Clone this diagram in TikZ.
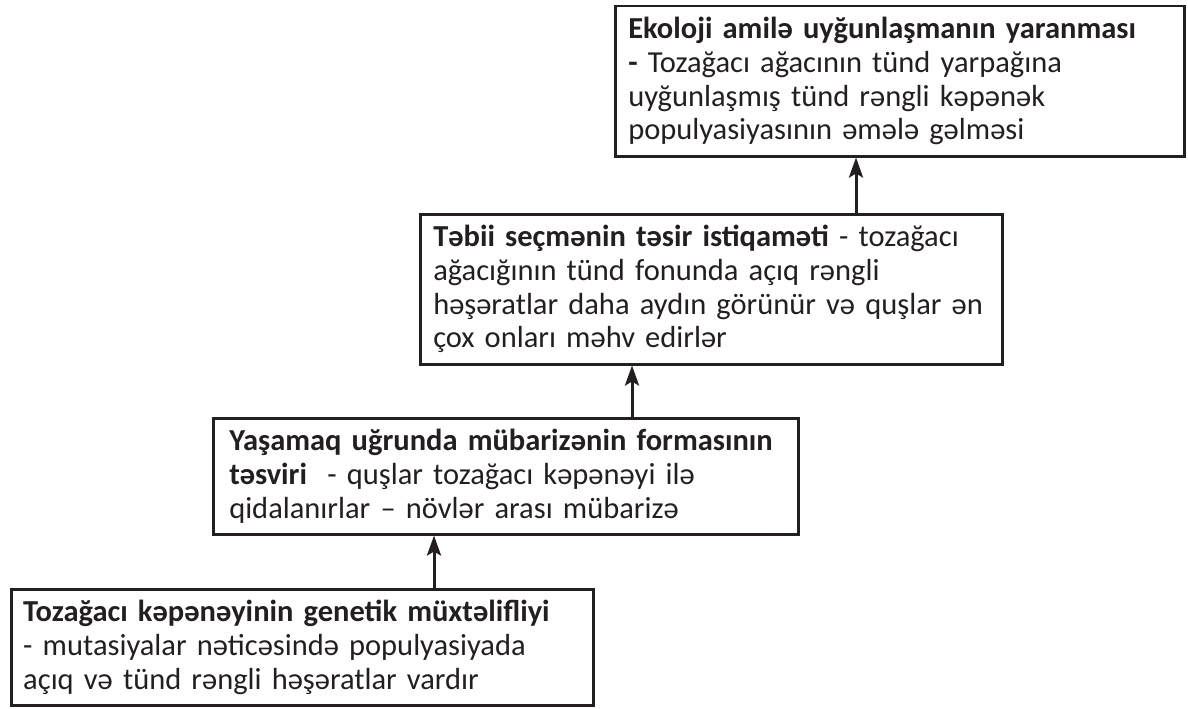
\documentclass[tikz,border=0pt]{standalone}
\usepackage{fontspec}
\setmainfont{Carlito}
\usetikzlibrary{arrows.meta}
\definecolor{ink}{HTML}{231F20}
\hyphenpenalty=10000
\exhyphenpenalty=10000
\tikzset{
  x=1pt, y=1pt,
  stagebox/.style={draw=ink, line width=2.5pt, text=ink, anchor=north west,
    align=left, inner xsep=12pt, inner ysep=0pt,
    font=\fontsize{30.5}{33.7}\selectfont},
  uparrow/.style={draw=ink, line width=3pt,
    -{Stealth[length=20pt, width=14pt, inset=4pt]}}
}
\begin{document}
\begin{tikzpicture}
  \useasboundingbox (0,0) rectangle (1188,-709);

  % bottom stage
  \node[stagebox, minimum width=582, minimum height=116, text width=558] (s1) at (10,-588)
    {\mbox{\textbf{Tozağacı kəpənəyinin genetik müxtəlifliyi}}\\
     - mutasiyalar nəticəsində populyasiyada\\
     açıq və tünd rəngli həşəratlar vardır};

  % second stage
  \node[stagebox, minimum width=585, minimum height=116, text width=553, inner xsep=16pt] (s2) at (212,-417)
    {\mbox{\textbf{Yaşamaq uğrunda mübarizənin formasının}}\\
     \textbf{təsviri}\ \ - quşlar tozağacı kəpənəyi ilə\\
     qidalanırlar – növlər arası mübarizə};

  % third stage
  \node[stagebox, minimum width=582, minimum height=150, text width=556, inner xsep=13pt] (s3) at (419,-213)
    {\mbox{\textbf{Təbii seçmənin təsir istiqaməti} - tozağacı}\\
     ağacığının tünd fonunda açıq rəngli\\
     \mbox{həşəratlar daha aydın görünür və quşlar ən}\\
     çox onları məhv edirlər};

  % top stage
  \node[stagebox, minimum width=569, minimum height=150, text width=543, inner xsep=13pt] (s4) at (614,-5)
    {\mbox{\textbf{Ekoloji amilə uyğunlaşmanın yaranması}}\\
     \textbf{-} Tozağacı ağacının tünd yarpağına\\
     uyğunlaşmış tünd rəngli kəpənək\\
     populyasiyasının əmələ gəlməsi};

  % arrow columns
  \coordinate (c1) at (434,0);
  \coordinate (c2) at (632,0);
  \coordinate (c3) at (856,0);

  \draw[uparrow] (s1.north -| c1) -- (s2.south -| c1);
  \draw[uparrow] (s2.north -| c2) -- (s3.south -| c2);
  \draw[uparrow] (s3.north -| c3) -- (s4.south -| c3);
\end{tikzpicture}
\end{document}
